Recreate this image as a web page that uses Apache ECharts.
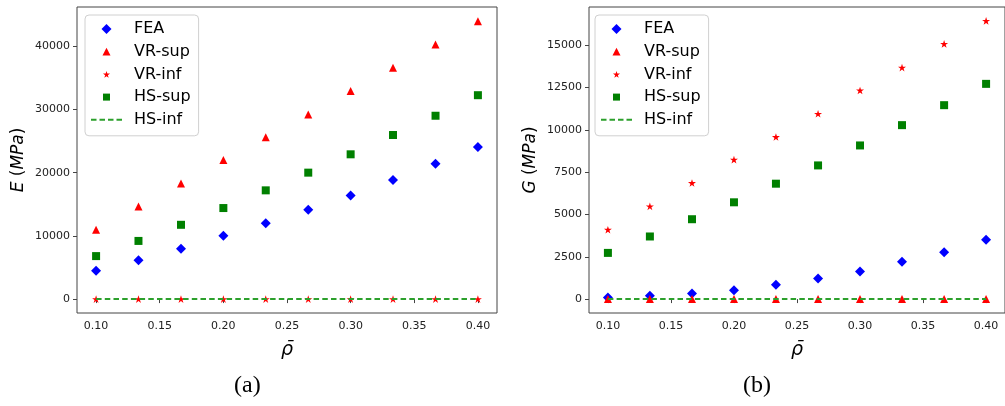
<!DOCTYPE html>
<html>
<head>
<meta charset="utf-8">
<script src="https://cdn.jsdelivr.net/npm/echarts@6/dist/echarts.min.js"></script>
<style>html,body{margin:0;padding:0;background:#fff;}#c{width:1005px;height:406px;}</style>
</head>
<body>
<div id="c"></div>
<script>
// ---- data ----
const rho = [0.1, 0.1333, 0.1667, 0.2, 0.2333, 0.2667, 0.3, 0.3333, 0.3667, 0.4];

const E_FEA   = [4500, 6150, 7950, 10000, 12000, 14150, 16400, 18850, 21400, 24050];
const E_VRsup = [10950, 14650, 18300, 22000, 25600, 29200, 32900, 36600, 40250, 43950];
const E_VRinf = [0, 0, 0, 0, 0, 0, 0, 0, 0, 0];
const E_HSsup = [6800, 9200, 11750, 14400, 17200, 20000, 22900, 25950, 29000, 32250];
const E_HSinf = [0, 0, 0, 0, 0, 0, 0, 0, 0, 0];

const G_FEA   = [100, 200, 330, 520, 850, 1220, 1630, 2200, 2770, 3500];
const G_VRsup = [0, 0, 0, 0, 0, 0, 0, 0, 0, 0];
const G_VRinf = [4100, 5480, 6860, 8240, 9580, 10950, 12330, 13680, 15080, 16440];
const G_HSsup = [2730, 3700, 4720, 5720, 6820, 7900, 9080, 10280, 11460, 12720];
const G_HSinf = [0, 0, 0, 0, 0, 0, 0, 0, 0, 0];

const xTicks  = [0.10, 0.15, 0.20, 0.25, 0.30, 0.35, 0.40];
const yTicksE = [0, 10000, 20000, 30000, 40000];
const yTicksG = [0, 2500, 5000, 7500, 10000, 12500, 15000];

const seriesNames = ['FEA', 'VR-sup', 'VR-inf', 'HS-sup', 'HS-inf'];
const captions = ['(a)', '(b)'];

// ---- styles ----
const FONT = 'DejaVu Sans';
const STAR = 'path://M0,-10 L2.245,-3.09 L9.51,-3.09 L3.633,1.18 L5.878,8.09 L0,3.82 L-5.878,8.09 L-3.633,1.18 L-9.51,-3.09 L-2.245,-3.09 Z';
const BLUE = '#0000ff', RED = '#ff0000', GREEN = '#008000', LGREEN = '#2ca02c';

// legend icons drawn inside a 31x11 handle box (box corners fixed by move-to points)
const BOX = 'M0,0 M31,11 ';
const LEGEND_ICONS = {
  'FEA':    'path://' + BOX + 'M15.5,0.5 L20.5,5.5 L15.5,10.5 L10.5,5.5 Z',
  'VR-sup': 'path://' + BOX + 'M15.5,1.6 L19.5,9.4 L11.5,9.4 Z',
  'VR-inf': 'path://' + BOX + 'M15.5,2.15 L16.331,4.707 L19.019,4.707 L16.844,6.287 L17.675,8.843 L15.5,7.263 L13.325,8.843 L14.156,6.287 L11.981,4.707 L14.669,4.707 Z',
  'HS-sup': 'path://' + BOX + 'M12,2 L19,2 L19,9 L12,9 Z',
  'HS-inf': 'path://' + BOX + 'M0,4.5 L5.5,4.5 L5.5,6.5 L0,6.5 Z M8.5,4.5 L14,4.5 L14,6.5 L8.5,6.5 Z M17,4.5 L22.5,4.5 L22.5,6.5 L17,6.5 Z M25.5,4.5 L31,4.5 L31,6.5 L25.5,6.5 Z'
};

function pairs(xs, ys) { return xs.map((x, i) => [x, ys[i]]); }

function makeSeries(idx, arrs) {
  const [fea, vrs, vri, hss, hsi] = arrs;
  const common = { type: 'scatter', xAxisIndex: idx, yAxisIndex: idx, symbolKeepAspect: true };
  return [
    Object.assign({ name: 'FEA', data: pairs(rho, fea), symbol: 'diamond', symbolSize: 10,
      itemStyle: { color: BLUE, opacity: 1 }, z: 2 }, common),
    Object.assign({ name: 'VR-sup', data: pairs(rho, vrs), symbol: 'triangle', symbolSize: 8,
      itemStyle: { color: RED, opacity: 1 }, z: 3 }, common),
    Object.assign({ name: 'VR-inf', data: pairs(rho, vri), symbol: STAR, symbolSize: 8,
      itemStyle: { color: RED, opacity: 1 }, z: 4 }, common),
    Object.assign({ name: 'HS-sup', data: pairs(rho, hss), symbol: 'rect', symbolSize: 8,
      itemStyle: { color: GREEN, opacity: 1 }, z: 5 }, common),
    { name: 'HS-inf', type: 'line', xAxisIndex: idx, yAxisIndex: idx, data: pairs(rho, hsi),
      symbol: 'none', showSymbol: false, z: 6,
      lineStyle: { color: LGREEN, width: 2, type: [5.5, 3.2] }, itemStyle: { color: LGREEN } }
  ];
}

const axisCommon = {
  axisLine: { show: false },
  splitLine: { show: false },
  axisTick: { show: true, inside: false, length: 4, lineStyle: { color: '#444', width: 1 } },
};

function xAxis(idx) {
  return Object.assign({}, axisCommon, {
    type: 'value', gridIndex: idx, min: 0.085, max: 0.415,
    name: '\u03C1\u0304', nameLocation: 'middle', nameGap: 28,
    nameTextStyle: { fontFamily: FONT, fontStyle: 'italic', fontSize: 19, color: '#000' },
    axisTick: Object.assign({}, axisCommon.axisTick, { customValues: xTicks }),
    axisLabel: { customValues: xTicks, formatter: v => v.toFixed(2), margin: 8,
      fontFamily: FONT, fontSize: 11, color: '#222' }
  });
}

function yAxis(idx, min, max, ticks, letter) {
  return Object.assign({}, axisCommon, {
    type: 'value', gridIndex: idx, min: min, max: max,
    name: '{i|' + letter + '} {n|(}{i|MPa}{n|)}', nameLocation: 'middle', nameGap: 50, nameRotate: 90,
    nameTextStyle: { fontFamily: FONT, fontSize: 17, color: '#000',
      rich: { i: { fontFamily: FONT, fontStyle: 'italic', fontSize: 17, color: '#000' },
              n: { fontFamily: FONT, fontSize: 17, color: '#000' } } },
    axisTick: Object.assign({}, axisCommon.axisTick, { customValues: ticks }),
    axisLabel: { customValues: ticks, formatter: v => String(Math.round(v)), margin: 7,
      fontFamily: FONT, fontSize: 11, color: '#222' }
  });
}

function legend(left) {
  return {
    orient: 'vertical', left: left, top: 15,
    data: seriesNames.map(n => ({ name: n, icon: LEGEND_ICONS[n] })),
    itemWidth: 31, itemHeight: 11, itemGap: 6.7,
    symbolKeepAspect: true,
    padding: [6, 8, 8, 6],
    backgroundColor: '#fff', borderColor: '#d0d0d0', borderWidth: 1, borderRadius: 4,
    selectedMode: false,
    textStyle: { fontFamily: FONT, fontSize: 16, color: '#000', lineHeight: 16, padding: [0, 0, 0, 7] }
  };
}

const chart = echarts.init(document.getElementById('c'), null, { renderer: 'canvas' });
chart.setOption({
  animation: false,
  backgroundColor: '#fff',
  grid: [
    { left: 77, top: 7, width: 420, height: 306, show: true, borderColor: '#444', borderWidth: 1, backgroundColor: 'transparent' },
    { left: 589, top: 7, width: 419, height: 306, show: true, borderColor: '#444', borderWidth: 1, backgroundColor: 'transparent' }
  ],
  xAxis: [xAxis(0), xAxis(1)],
  yAxis: [yAxis(0, -2200, 46200, yTicksE, 'E'), yAxis(1, -822, 17262, yTicksG, 'G')],
  legend: [legend(85), legend(595)],
  graphic: [
    { type: 'text', left: 234, top: 374, style: { text: captions[0], font: '24px "Liberation Serif"', fill: '#000' } },
    { type: 'text', left: 743, top: 374, style: { text: captions[1], font: '24px "Liberation Serif"', fill: '#000' } }
  ],
  series: makeSeries(0, [E_FEA, E_VRsup, E_VRinf, E_HSsup, E_HSinf])
    .concat(makeSeries(1, [G_FEA, G_VRsup, G_VRinf, G_HSsup, G_HSinf]))
});
</script>
</body>
</html>
